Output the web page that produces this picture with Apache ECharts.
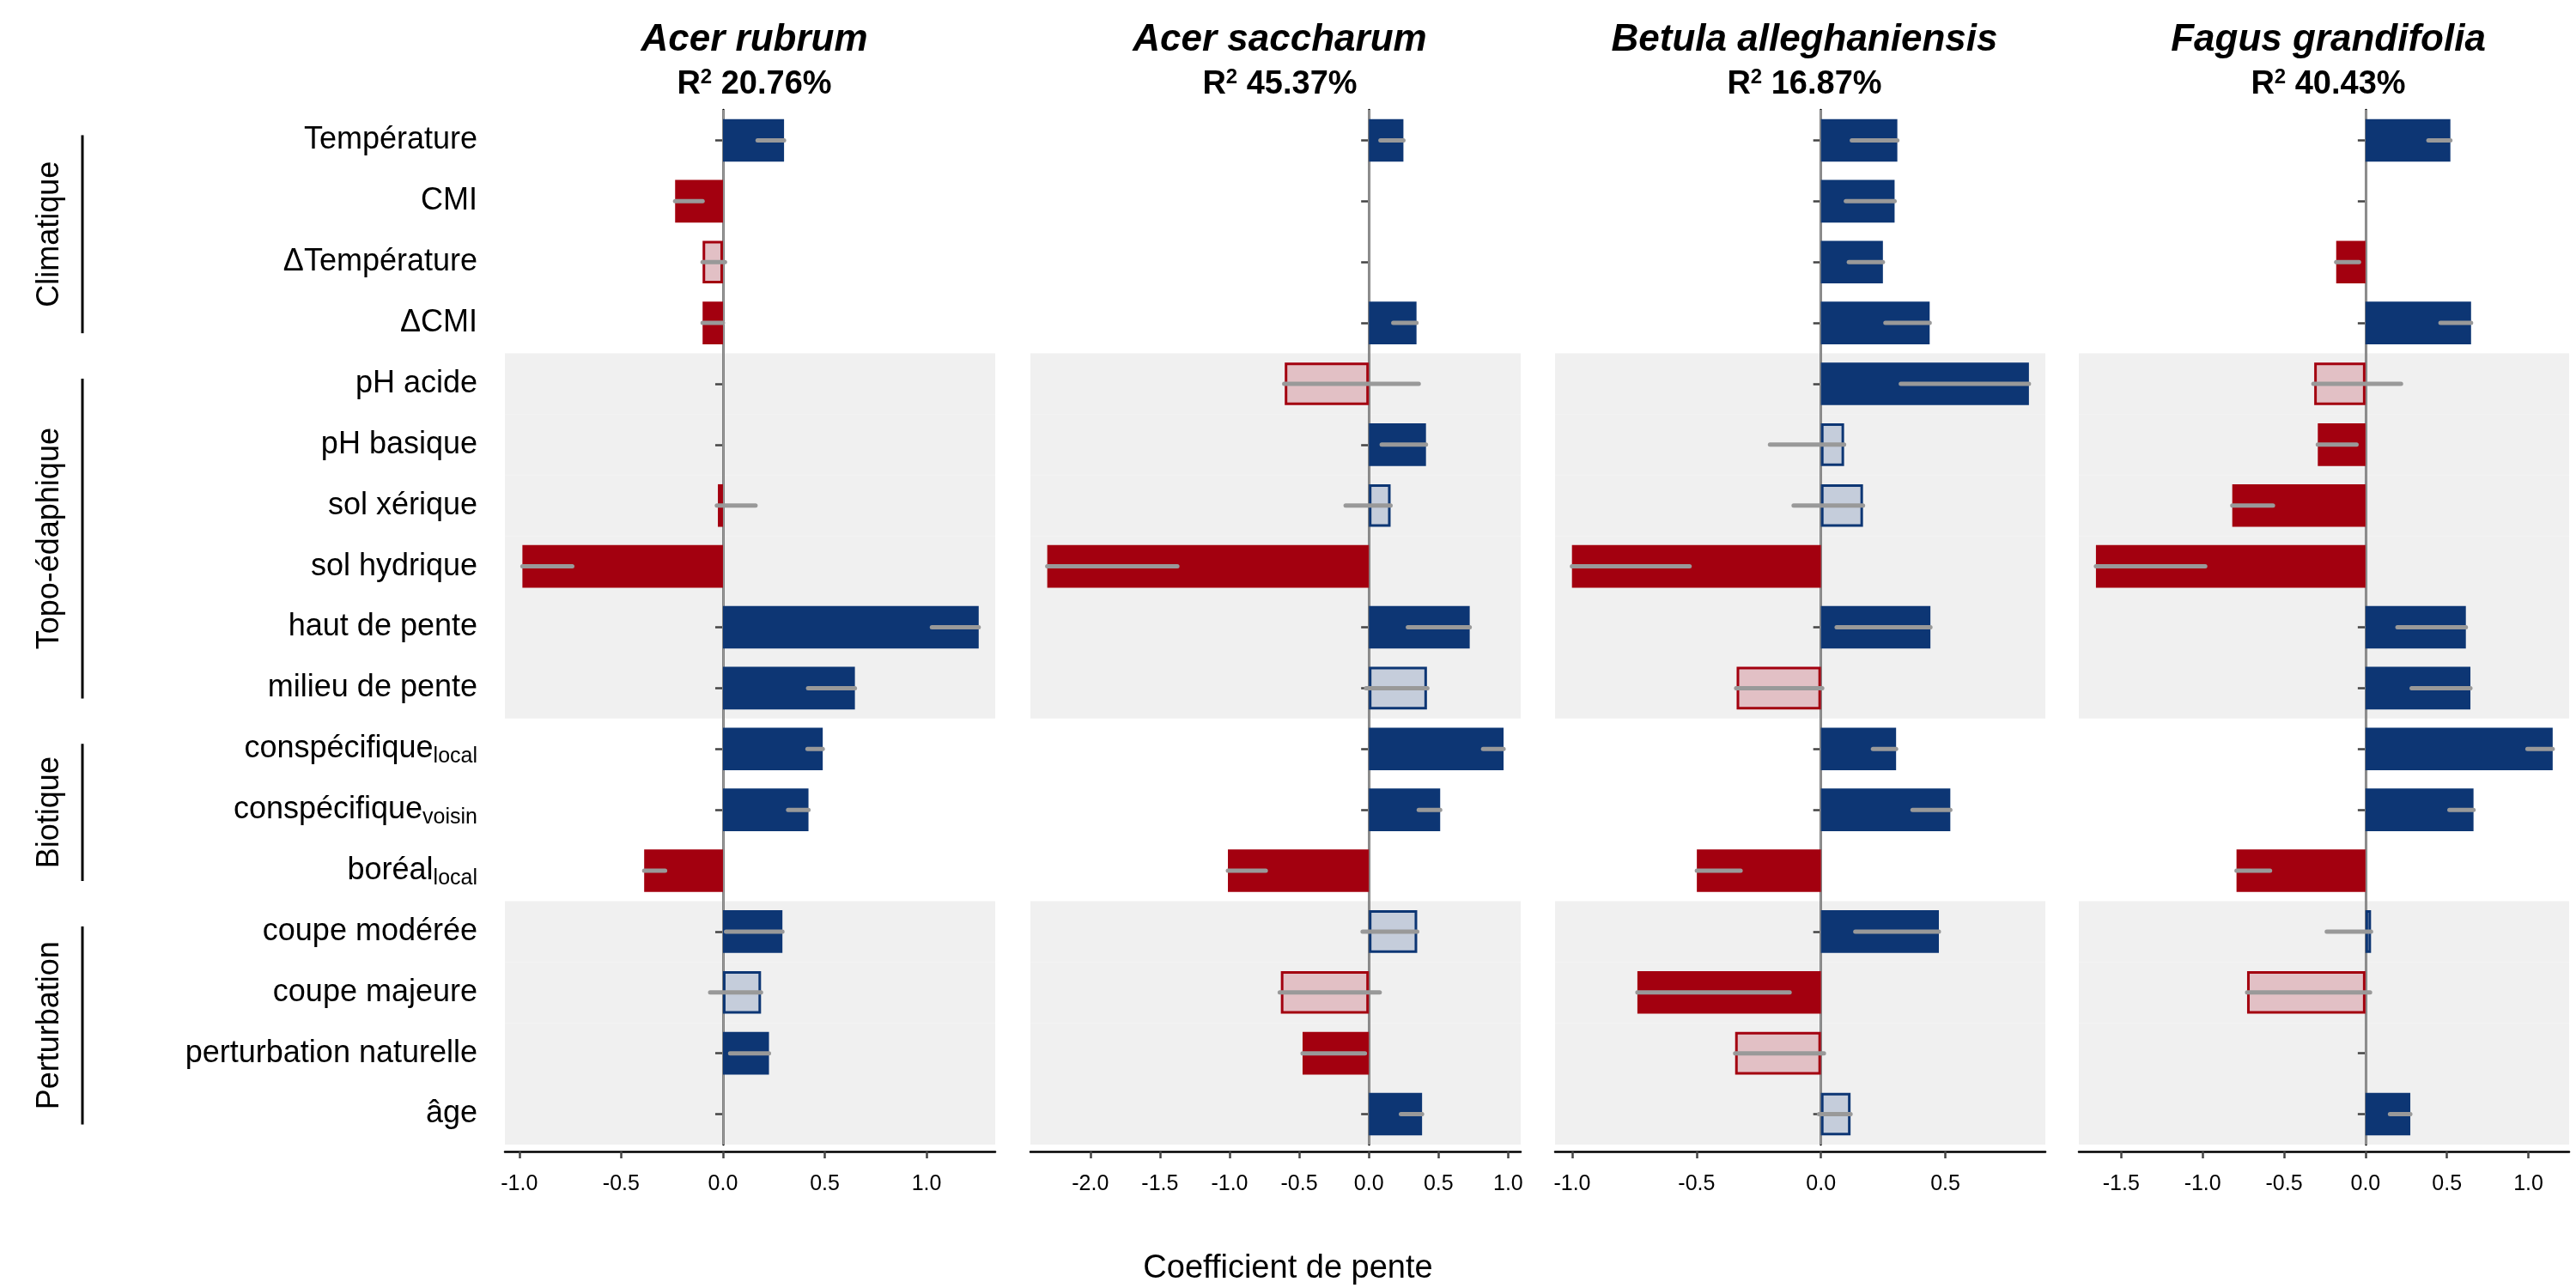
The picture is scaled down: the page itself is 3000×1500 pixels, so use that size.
<!DOCTYPE html>
<html><head><meta charset="utf-8">
<script src="https://cdn.jsdelivr.net/npm/echarts@6/dist/echarts.min.js"></script>
<style>html,body{margin:0;padding:0;background:#fff}#c{width:3000px;height:1500px}</style>
</head><body><div id="c"></div>
<script>
const categories = ['Température','CMI','ΔTempérature','ΔCMI','pH acide','pH basique','sol xérique','sol hydrique','haut de pente','milieu de pente','conspécifique_local','conspécifique_voisin','boréal_local','coupe modérée','coupe majeure','perturbation naturelle','âge'];
const species = ['Acer rubrum','Acer saccharum','Betula alleghaniensis','Fagus grandifolia'];
const r2Labels = ['20.76%','45.37%','16.87%','40.43%'];
const groups = [['Climatique',0,3],['Topo-édaphique',4,9],['Biotique',10,12],['Perturbation',13,16]];
const shadedRows = [4,5,6,7,8,9,13,14,15,16];

// coefficient, CI low, CI high, significant (1) or not (0)
const rubrumCoef = [0.30,-0.235,-0.10,-0.10,null,null,-0.025,-0.985,1.256,0.648,0.49,0.42,-0.387,0.292,0.187,0.226,null];
const rubrumLo   = [0.17,-0.235,-0.10,-0.10,null,null,-0.03,-0.985,1.026,0.418,0.415,0.32,-0.387,0.015,-0.063,0.035,null];
const rubrumHi   = [0.30,-0.10,0.01,0.0,null,null,0.16,-0.74,1.256,0.648,0.49,0.42,-0.284,0.292,0.187,0.226,null];
const rubrumSig  = [1,1,0,1,0,0,0,1,1,1,1,1,1,1,0,1,0];

const saccharumCoef = [0.248,null,null,0.342,-0.604,0.41,0.156,-2.309,0.724,0.417,0.967,0.512,-1.012,0.347,-0.632,-0.476,0.382];
const saccharumLo   = [0.083,null,null,0.175,-0.608,0.092,-0.167,-2.309,0.28,-0.02,0.82,0.358,-1.012,-0.045,-0.64,-0.476,0.23];
const saccharumHi   = [0.248,null,null,0.342,0.358,0.41,0.156,-1.375,0.724,0.42,0.967,0.512,-0.74,0.347,0.078,-0.028,0.382];
const saccharumSig  = [1,0,0,1,0,1,0,1,1,0,1,1,1,0,0,1,1];

const betulaCoef = [0.307,0.296,0.249,0.437,0.836,0.093,0.169,-1.001,0.44,-0.339,0.302,0.52,-0.499,0.474,-0.738,-0.345,0.119];
const betulaLo   = [0.124,0.10,0.112,0.259,0.321,-0.205,-0.11,-1.001,0.063,-0.341,0.209,0.368,-0.499,0.138,-0.738,-0.345,-0.008];
const betulaHi   = [0.307,0.296,0.249,0.437,0.836,0.093,0.169,-0.528,0.44,0.005,0.302,0.52,-0.323,0.474,-0.126,0.012,0.119];
const betulaSig  = [1,1,1,1,1,0,0,1,1,0,1,1,1,1,1,0,0];

const fagusCoef = [0.521,null,-0.18,0.648,-0.315,-0.293,-0.818,-1.655,0.616,0.644,1.149,0.663,-0.792,0.034,-0.727,null,0.275];
const fagusLo   = [0.386,null,-0.18,0.46,-0.32,-0.293,-0.818,-1.655,0.196,0.283,0.994,0.515,-0.792,-0.238,-0.727,null,0.15];
const fagusHi   = [0.521,null,-0.04,0.648,0.218,-0.055,-0.568,-0.984,0.616,0.644,1.149,0.663,-0.586,0.034,0.028,null,0.275];
const fagusSig  = [1,0,1,1,0,1,1,1,1,1,1,1,1,0,0,0,1];

const xTicks = [[-1,-0.5,0,0.5,1],[-2,-1.5,-1,-0.5,0,0.5,1],[-1,-0.5,0,0.5],[-1.5,-1,-0.5,0,0.5,1]];
const xMin = [-1.071,-2.43,-1.069,-1.76];
const xMax = [1.337,1.09,0.902,1.25];

const panels = [
  [rubrumCoef,rubrumLo,rubrumHi,rubrumSig],
  [saccharumCoef,saccharumLo,saccharumHi,saccharumSig],
  [betulaCoef,betulaLo,betulaHi,betulaSig],
  [fagusCoef,fagusLo,fagusHi,fagusSig]
];

const BLUE='#0d3674', RED='#a3000f', LBLUE='#c5cddb', LRED='#e2c0c5';
const lefts=[588,1200,1811,2421], W=571, TOP=128, H=1205;
const F='"Liberation Sans Narrow", "Liberation Sans", Arial, sans-serif';

function labelFmt(v){
  const i=v.indexOf('_');
  if(i<0) return '{m|'+v+'}';
  return '{m|'+v.slice(0,i)+'}{s|'+v.slice(i+1)+'}';
}

const grid=[],xAxis=[],yAxis=[],series=[],title=[];
panels.forEach((p,k)=>{
  grid.push({left:lefts[k],top:TOP,width:W,height:H});
  xAxis.push({gridIndex:k,type:'value',min:xMin[k],max:xMax[k],offset:8,
    splitLine:{show:false},
    axisLine:{show:true,lineStyle:{color:'#000',width:2.5}},
    axisTick:{show:true,customValues:xTicks[k],length:8,lineStyle:{color:'#444',width:2.5}},
    axisLabel:{customValues:xTicks[k],formatter:v=>v.toFixed(1),fontFamily:F,fontSize:25,color:'#000',margin:26}});
  yAxis.push({gridIndex:k,type:'category',data:categories,inverse:true,
    axisLine:{show:true,lineStyle:{color:'#000',width:2.5}},
    axisTick:{show:true,length:9,alignWithLabel:true,lineStyle:{color:'#444',width:2.5}},
    axisLabel:{show:k===0,margin:32,formatter:labelFmt,color:'#000',
      rich:{m:{fontFamily:F,fontSize:36,color:'#000'},s:{fontFamily:F,fontSize:25,color:'#000',padding:[18,0,0,0]}}}});
  series.push({type:'custom',xAxisIndex:k,yAxisIndex:k,silent:true,z:0,
    data:shadedRows.map(r=>[0,r]),encode:{x:0,y:1},
    renderItem:(params,api)=>{
      const c=api.coord([0,api.value(1)]); const h=api.size([0,1])[1];
      return {type:'rect',shape:{x:params.coordSys.x,y:c[1]-h/2,width:params.coordSys.width,height:h},style:{fill:'#f0f0f0'}};
    }});
  const [coef,lo,hi,sig]=p;
  series.push({type:'bar',xAxisIndex:k,yAxisIndex:k,barWidth:'70%',z:2,
    data:coef.map((v,i)=>{
      if(v===null) return null;
      const pos=v>=0, s=sig[i];
      return {value:v,itemStyle: s?{color:pos?BLUE:RED}:{color:pos?LBLUE:LRED,borderColor:pos?BLUE:RED,borderWidth:3}};
    }),
    markLine:{silent:true,symbol:'none',label:{show:false},lineStyle:{color:'#999',width:2.5,type:'solid'},data:[{xAxis:0}],z:1}});
  series.push({type:'custom',xAxisIndex:k,yAxisIndex:k,silent:true,z:5,
    data:lo.map((l,i)=>l===null?null:[l,hi[i],i]).filter(d=>d),encode:{x:[0,1],y:2},
    renderItem:(params,api)=>{
      const a=api.coord([api.value(0),api.value(2)]),b=api.coord([api.value(1),api.value(2)]);
      return {type:'line',shape:{x1:a[0],y1:a[1],x2:b[0],y2:b[1]},style:{stroke:'#999',lineWidth:5,lineCap:'round'}};
    }});
  title.push({left:lefts[k]+W/2,top:14,textAlign:'center',
    text:'{sp|'+species[k]+'}\n{r|R}{sup|2}{r| '+r2Labels[k]+'}',
    textStyle:{rich:{sp:{fontFamily:F,fontSize:44,fontWeight:'bold',fontStyle:'italic',color:'#000',lineHeight:56},
      r:{fontFamily:F,fontSize:38,color:'#000',lineHeight:48},
      sup:{fontFamily:F,fontSize:24,color:'#000',padding:[0,0,18,0]}}}});
});

const rowC=i=>TOP+H/17*(i+0.5);
const graphic=[];
groups.forEach(g=>{
  const y1=rowC(g[1])-6,y2=rowC(g[2])+12;
  graphic.push({type:'line',shape:{x1:96,y1:y1,x2:96,y2:y2},style:{stroke:'#000',lineWidth:3}});
  graphic.push({type:'text',x:58,y:(y1+y2)/2,rotation:Math.PI/2,
    style:{text:g[0],font:'36px "Liberation Sans", Arial, sans-serif',fill:'#000',textAlign:'center',textVerticalAlign:'middle'}});
});
graphic.push({type:'text',x:1500,y:1478,style:{text:'Coefficient de pente',font:'38px "Liberation Sans", Arial, sans-serif',fill:'#000',textAlign:'center',textVerticalAlign:'middle'}});

const chart=echarts.init(document.getElementById('c'));
chart.setOption({animation:false,backgroundColor:'#fff',title,grid,xAxis,yAxis,series,graphic});
</script></body></html>
